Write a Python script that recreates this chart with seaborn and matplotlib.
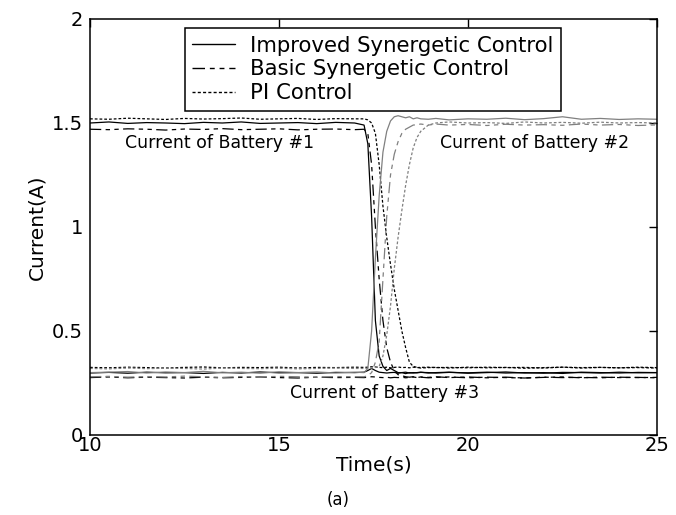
import matplotlib
matplotlib.use("Agg")
import matplotlib.pyplot as plt
import seaborn as sns
import pandas as pd
from matplotlib.lines import Line2D

# ---------------- data ----------------
time_s = [10, 10.5, 11, 11.5, 12, 12.5, 13, 13.5, 14, 14.5, 15, 15.5, 16, 16.5, 17,
          17.25, 17.35, 17.45, 17.55, 17.65, 17.75, 17.85, 17.95, 18.05, 18.15, 18.25, 18.35, 18.45, 18.55, 18.65, 18.75,
          18.95, 19.15,
          19.5, 20, 20.5, 21, 21.5, 22, 22.5, 23, 23.5, 24, 24.5, 25]

b1_improved = [1.50, 1.505, 1.498, 1.502, 1.50, 1.497, 1.503, 1.50, 1.505, 1.498, 1.50, 1.502, 1.497, 1.503, 1.50,
               1.49, 1.40, 1.05, 0.55, 0.38, 0.33, 0.31, 0.32, 0.31, 0.30, 0.30, 0.295, 0.30, 0.298, 0.30, 0.302,
               0.298, 0.30,
               0.302, 0.297, 0.30, 0.303, 0.298, 0.30, 0.296, 0.302, 0.30, 0.298, 0.301, 0.30]
b1_basic = [1.47, 1.468, 1.472, 1.47, 1.466, 1.471, 1.469, 1.473, 1.468, 1.47, 1.472, 1.467, 1.47, 1.471, 1.468,
            1.47, 1.45, 1.30, 1.00, 0.75, 0.55, 0.42, 0.35, 0.31, 0.29, 0.285, 0.28, 0.278, 0.28, 0.276, 0.279,
            0.277, 0.28,
            0.276, 0.279, 0.275, 0.278, 0.274, 0.277, 0.279, 0.275, 0.278, 0.276, 0.277, 0.275]
b1_pi = [1.52, 1.518, 1.523, 1.52, 1.517, 1.522, 1.519, 1.521, 1.524, 1.518, 1.52, 1.522, 1.517, 1.521, 1.52,
         1.52, 1.515, 1.50, 1.45, 1.30, 1.10, 0.95, 0.82, 0.70, 0.60, 0.50, 0.42, 0.35, 0.33, 0.325, 0.322,
         0.324, 0.325,
         0.322, 0.326, 0.323, 0.325, 0.321, 0.324, 0.326, 0.322, 0.325, 0.323, 0.324, 0.322]

b2_improved = [0.30, 0.302, 0.305, 0.298, 0.303, 0.30, 0.306, 0.299, 0.302, 0.297, 0.304, 0.30, 0.303, 0.298, 0.302,
               0.30, 0.32, 0.50, 0.85, 1.15, 1.36, 1.46, 1.51, 1.53, 1.535, 1.53, 1.525, 1.53, 1.52, 1.525, 1.52,
               1.518, 1.522,
               1.515, 1.52, 1.518, 1.523, 1.516, 1.521, 1.53, 1.518, 1.522, 1.517, 1.52, 1.518]
b2_basic = [0.28, 0.282, 0.278, 0.281, 0.279, 0.283, 0.28, 0.277, 0.281, 0.279, 0.282, 0.28, 0.278, 0.281, 0.28,
            0.28, 0.285, 0.30, 0.35, 0.45, 0.75, 1.05, 1.25, 1.35, 1.41, 1.45, 1.47, 1.48, 1.49, 1.492, 1.495,
            1.49, 1.495,
            1.49, 1.493, 1.488, 1.494, 1.49, 1.492, 1.489, 1.495, 1.49, 1.493, 1.488, 1.491]
b2_pi = [0.32, 0.318, 0.322, 0.319, 0.321, 0.32, 0.317, 0.322, 0.32, 0.319, 0.321, 0.318, 0.32, 0.322, 0.32,
         0.32, 0.32, 0.322, 0.325, 0.33, 0.38, 0.48, 0.62, 0.80, 0.95, 1.08, 1.20, 1.30, 1.38, 1.43, 1.46,
         1.49, 1.50,
         1.505, 1.50, 1.502, 1.498, 1.505, 1.50, 1.503, 1.499, 1.504, 1.50, 1.502, 1.50]

b3_improved = [0.298, 0.301, 0.297, 0.302, 0.299, 0.30, 0.296, 0.301, 0.298, 0.303, 0.299, 0.30, 0.297, 0.301, 0.30,
               0.302, 0.31, 0.32, 0.31, 0.302, 0.30, 0.298, 0.30, 0.301, 0.297, 0.30, 0.302, 0.298, 0.30, 0.299, 0.301,
               0.30, 0.298,
               0.301, 0.299, 0.302, 0.298, 0.30, 0.297, 0.301, 0.30, 0.298, 0.302, 0.299, 0.30]
b3_basic = [0.276, 0.279, 0.275, 0.278, 0.276, 0.274, 0.278, 0.275, 0.277, 0.279, 0.276, 0.274, 0.278, 0.276, 0.277,
            0.276, 0.278, 0.28, 0.279, 0.277, 0.276, 0.278, 0.275, 0.277, 0.276, 0.278, 0.275, 0.277, 0.279, 0.276, 0.278,
            0.275, 0.277,
            0.279, 0.275, 0.278, 0.276, 0.274, 0.278, 0.276, 0.277, 0.275, 0.278, 0.276, 0.277]
b3_pi = [0.325, 0.323, 0.326, 0.324, 0.322, 0.325, 0.327, 0.323, 0.325, 0.324, 0.326, 0.322, 0.325, 0.324, 0.326,
         0.325, 0.326, 0.328, 0.327, 0.325, 0.324, 0.326, 0.323, 0.325, 0.327, 0.324, 0.325, 0.323, 0.326, 0.324, 0.325,
         0.326, 0.324,
         0.325, 0.323, 0.326, 0.324, 0.325, 0.322, 0.326, 0.324, 0.325, 0.323, 0.326, 0.324]

legend_labels = ["Improved Synergetic Control", "Basic Synergetic Control", "PI Control"]
x_ticks = [10, 15, 20, 25]
y_ticks = [0, 0.5, 1, 1.5, 2]
y_ticklabels = ["0", "0.5", "1", "1.5", "2"]

# ---------------- style ----------------
sns.set_theme(style="white")
plt.rcParams["font.family"] = ["DejaVu Sans"]
plt.rcParams["text.color"] = "black"
plt.rcParams["axes.labelcolor"] = "black"

BLACK = "#000000"
GRAY = "#808080"
STYLE = {
    "improved": None,
    "basic": (9, 3.5, 3.5, 3.5, 3.5, 3.5),
    "pi": (2.2, 1.6),
}

fig = plt.figure(figsize=(6.76, 5.15), dpi=100)
ax = fig.add_axes([90 / 676, 1 - 435 / 515, 567 / 676, 416 / 515])

series = [
    (b1_improved, BLACK, "improved"), (b1_basic, BLACK, "basic"), (b1_pi, BLACK, "pi"),
    (b3_improved, BLACK, "improved"), (b3_basic, BLACK, "basic"), (b3_pi, BLACK, "pi"),
    (b2_improved, GRAY, "improved"), (b2_basic, GRAY, "basic"), (b2_pi, GRAY, "pi"),
]
for vals, col, kind in series:
    df = pd.DataFrame({"t": time_s, "i": vals})
    sns.lineplot(data=df, x="t", y="i", ax=ax, color=col, linewidth=0.9,
                 estimator=None, sort=False, legend=False)
    ln = ax.lines[-1]
    if STYLE[kind] is not None:
        ln.set_dashes(STYLE[kind])

ax.set_xlim(10, 25)
ax.set_ylim(0, 2)
ax.set_xticks(x_ticks)
ax.set_xticklabels([str(v) for v in x_ticks])
ax.set_yticks(y_ticks)
ax.set_yticklabels(y_ticklabels)
ax.tick_params(direction="in", length=6, width=1, top=True, right=True,
               labelsize=14, colors=BLACK)
ax.tick_params(axis="x", pad=1)
ax.tick_params(axis="y", pad=5)
for sp in ax.spines.values():
    sp.set_color(BLACK)
    sp.set_linewidth(1.1)
    sp.set_visible(True)

ax.set_xlabel("Time(s)", fontsize=14.5, color=BLACK, labelpad=0)
ax.set_ylabel("Current(A)", fontsize=14.5, color=BLACK, labelpad=4)

ax.text(13.44, 1.405, "Current of Battery #1", fontsize=12.5, ha="center", va="center", color=BLACK)
ax.text(21.77, 1.405, "Current of Battery #2", fontsize=12.5, ha="center", va="center", color=BLACK)
ax.text(17.80, 0.2, "Current of Battery #3", fontsize=12.5, ha="center", va="center", color=BLACK)

handles = []
for kind in ["improved", "basic", "pi"]:
    h = Line2D([0], [0], color=BLACK, linewidth=1.0)
    if STYLE[kind] is not None:
        h.set_dashes(STYLE[kind])
    handles.append(h)
leg = ax.legend(handles, legend_labels, loc="upper left", bbox_to_anchor=(0.1676, 0.978),
                fontsize=15.3, frameon=True, fancybox=False, framealpha=1,
                edgecolor=BLACK, handlelength=2.0, borderpad=0.35, labelspacing=0.18,
                handletextpad=0.7, borderaxespad=0)
leg.get_frame().set_linewidth(1.1)
for txt in leg.get_texts():
    txt.set_color(BLACK)

fig.text(338 / 676, 1 - 500 / 515, "(a)", fontsize=12, ha="center", va="center", color=BLACK)

fig.savefig("out.png", dpi=100)
